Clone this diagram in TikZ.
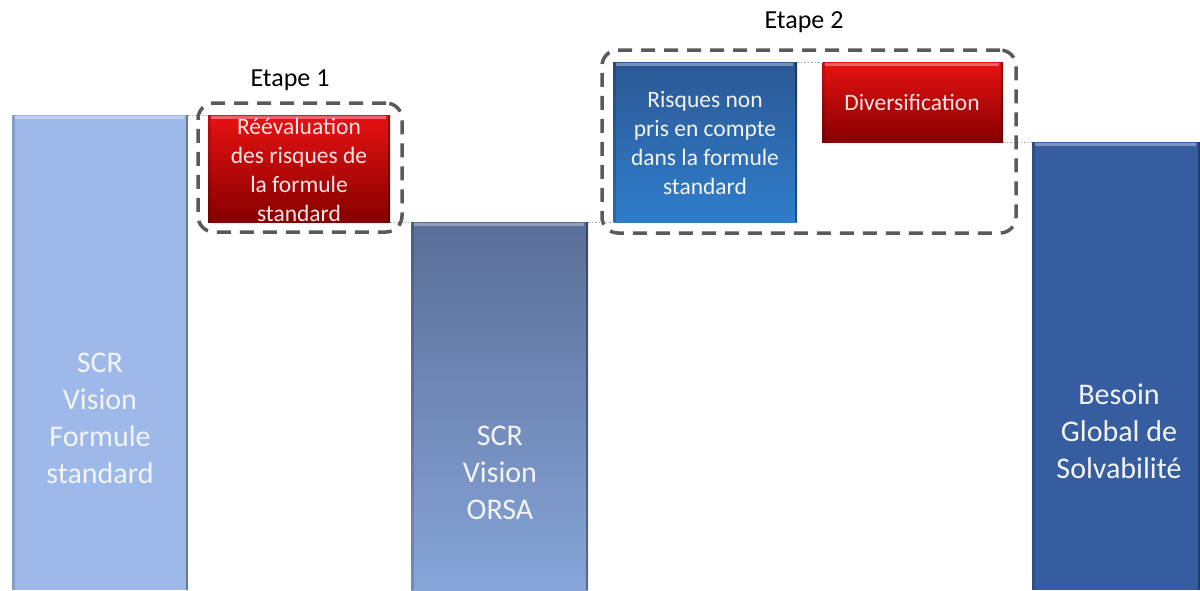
\documentclass[tikz,border=0pt]{standalone}
\usepackage{fontspec}
\setmainfont{Carlito}
\definecolor{barA}{HTML}{9DB9EA}
\definecolor{barBtop}{HTML}{596E97}
\definecolor{barBbot}{HTML}{87A5D9}
\definecolor{barC}{HTML}{365DA0}
\definecolor{blueTop}{HTML}{2C5894}
\definecolor{blueBot}{HTML}{2F7DCB}
\definecolor{redTop}{HTML}{E81212}
\definecolor{redBot}{HTML}{860000}
\definecolor{dashgray}{HTML}{5A5A5A}
\definecolor{txtw}{HTML}{F4F4F4}
\definecolor{txtp}{HTML}{FFE4E4}
\begin{document}
\begin{tikzpicture}[x=1pt,y=-1pt,
  box/.style={draw=none,rectangle,inner sep=0pt,outer sep=0pt,anchor=north west},
  bigtxt/.style={text=txtw,align=center,font=\fontsize{30}{37}\selectfont},
  smalltxt/.style={text=txtp,align=center,font=\fontsize{23.5}{29}\selectfont},
  bluetxt/.style={text=txtw,align=center,font=\fontsize{23.5}{29}\selectfont},
  steplabel/.style={text=black,font=\fontsize{26}{30}\selectfont},
  dashbox/.style={draw=dashgray,line width=3.5pt,dash pattern=on 14pt off 9pt,rounded corners=16pt},
  dotlink/.style={draw=gray!70,line width=1pt,dash pattern=on 1.5pt off 2pt},
  redbox/.style={box,top color=redTop,bottom color=redBot},
  topbevel/.style={draw=white,opacity=0.35,line width=2.5pt},
  sidebevel/.style={draw=black,opacity=0.35,line width=2.5pt}]
\useasboundingbox (0,0) rectangle (1200,590);
\fill[white] (0,0) rectangle (1200,590);

% bars and boxes
\node[box,fill=barA,minimum width=176pt,minimum height=475pt] (b1) at (12,115) {};
\node[redbox,minimum width=182pt,minimum height=107pt] (r1) at (208,115) {};
\node[box,top color=barBtop,bottom color=barBbot,minimum width=177pt,minimum height=368pt] (b2) at (411,222) {};
\node[box,top color=blueTop,bottom color=blueBot,minimum width=184pt,minimum height=160pt] (bl) at (613,62) {};
\node[redbox,minimum width=181pt,minimum height=80pt] (r2) at (822,62) {};
\node[box,fill=barC,minimum width=168pt,minimum height=448pt] (b3) at (1032,142) {};

% bevels
\foreach \n in {b1,r1,b2,bl,r2,b3}{
  \draw[topbevel] ([xshift=3pt,yshift=-2.5pt]\n.north west) -- ([xshift=-4pt,yshift=-2.5pt]\n.north east);
  \draw[sidebevel] ([xshift=-1.25pt]\n.north east) -- ([xshift=-1.25pt]\n.south east);
  \draw[sidebevel,opacity=0.15] ([xshift=1.25pt]\n.north west) -- ([xshift=1.25pt]\n.south west);
}

% texts
\node[bigtxt] (t1) at (100,418) {SCR\\Vision\\Formule\\standard};
\node[smalltxt] (t2) at (299,170) {Réévaluation\\des risques de\\la formule\\standard};
\node[bigtxt] (t3) at (500,473) {SCR\\Vision\\ORSA};
\node[bluetxt] (t4) at (705,143) {Risques non\\pris en compte\\dans la formule\\standard};
\node[smalltxt] (t5) at (912,102) {Diversification};
\node[bigtxt] (t6) at (1119,431) {Besoin\\Global de\\Solvabilité};

% dotted links
\draw[dotlink] (b1.north east) -- (r1.north west);
\draw[dotlink] (r1.south east) -- (b2.north west);
\draw[dotlink] (b2.north east) -- (bl.south west);
\draw[dotlink] (bl.north east) -- (r2.north west);
\draw[dotlink] (r2.south east) -- (b3.north west);

% dashed groups
\node[box,dashbox,minimum width=204pt,minimum height=129pt] (g1) at (198,103) {};
\node[box,dashbox,minimum width=414pt,minimum height=183pt] (g2) at (602,50) {};

\node[steplabel] (e1) at (290,80) {Etape 1};
\node[steplabel] (e2) at (804,22) {Etape 2};
\end{tikzpicture}
\end{document}
